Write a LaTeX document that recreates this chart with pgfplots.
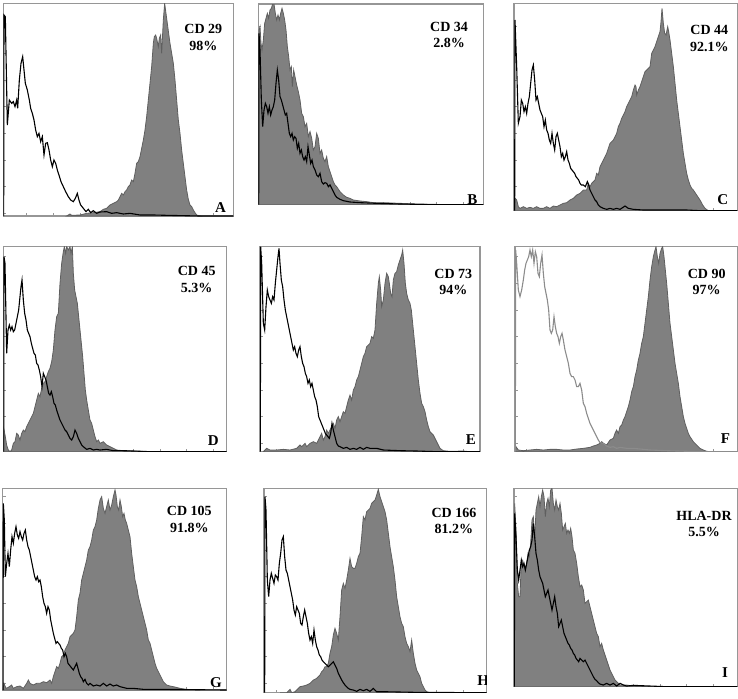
\documentclass[border=0pt]{standalone}
\usepackage{pgfplots}
\pgfplotsset{compat=1.18}
\usepackage{fontspec}
\setmainfont{Liberation Serif}
\definecolor{histfill}{RGB}{128,128,128}
\definecolor{histedge}{RGB}{95,95,95}
\definecolor{frame}{RGB}{150,150,150}
\pgfplotsset{
  hist/.style={
    scale only axis, anchor=north west, y dir=reverse,
    axis line style={frame, line width=0.6pt},
    xtick distance=80, ytick distance=80,
    xticklabels={}, yticklabels={},
    tick pos=left, tick align=inside, major tick length=1.5pt,
    tick style={frame, line width=0.4pt},
    clip=true,
  },
  filled/.style={fill=histfill, draw=histedge, line width=0.4pt},
  ctrl/.style={black, line width=0.55pt},
}
\newcommand{\lab}[4]{%
  \node[font=\fontsize{7}{8.2}\selectfont\bfseries, align=center] at (axis cs:#1,#2) {#3\\#4};}
\newcommand{\letter}[3]{%
  \node[font=\fontsize{7.5}{8}\selectfont\bfseries] at (axis cs:#1,#2) {#3};}
\begin{document}
\begin{tikzpicture}
\path[use as bounding box] (0,0) rectangle (369pt,-349pt);
% ---------------- A
\begin{axis}[hist, at={(1.667pt,-1.667pt)}, width=115pt, height=106.33pt,
  xmin=10, xmax=700, ymin=10, ymax=648]
\addplot[filled] coordinates {(200,648) (210,642) (215,646) (240,645) (260,640) (280,638) (300,635) (310,628) (320,625) (330,615) (340,610) (350,605) (355,600) (360,590) (365,580) (370,585) (375,575) (380,570) (385,560) (390,555) (395,540) (400,545) (405,520) (410,490) (415,485) (420,470) (425,445) (430,420) (435,390) (440,350) (445,300) (450,250) (455,200) (460,130) (463,110) (467,105) (470,115) (475,140) (478,115) (482,105) (485,160) (488,100) (490,60) (494,10) (498,40) (502,70) (506,100) (510,130) (515,160) (520,190) (525,240) (530,300) (535,360) (540,400) (545,450) (550,490) (555,530) (560,570) (565,598) (570,615) (575,620) (580,630) (585,638) (590,645) (600,648)} -- cycle;
\addplot[ctrl] coordinates {(11,648) (12,45) (16,50) (22,375) (28,300) (35,310) (40,305) (45,320) (50,300) (53,325) (58,240) (63,190) (68,170) (72,210) (76,250) (82,270) (88,300) (92,325) (97,340) (102,360) (107,390) (112,410) (117,400) (122,425) (127,410) (132,465) (137,430) (142,428) (147,450) (152,480) (157,500) (162,480) (167,490) (172,510) (177,525) (183,545) (190,560) (197,575) (205,590) (212,600) (220,605) (226,595) (232,580) (237,600) (242,615) (250,625) (258,635) (265,628) (272,638) (280,632) (290,640) (300,636) (320,635) (335,640) (350,638) (370,642) (390,640) (420,645) (460,645) (500,646) (550,647) (600,648) (700,648)};
\lab{610}{112}{CD 29}{98\%}
\letter{662}{622}{A}
\end{axis}
% ---------------- B
\begin{axis}[hist, at={(129.17pt,-2pt)}, width=112.5pt, height=100.33pt,
  xmin=25, xmax=700, ymin=12, ymax=614]
\addplot[filled] coordinates {(26,614) (27,90) (30,80) (33,130) (36,150) (40,120) (44,70) (48,55) (52,40) (56,55) (60,30) (64,25) (68,12) (72,12) (76,40) (80,60) (84,45) (88,60) (92,40) (96,25) (100,40) (104,60) (108,90) (112,140) (116,170) (120,210) (124,200) (127,260) (131,210) (135,230) (140,255) (145,275) (150,300) (155,340) (160,350) (165,380) (170,370) (175,410) (180,395) (185,415) (190,450) (195,440) (200,400) (205,415) (210,460) (215,450) (220,475) (225,485) (230,470) (235,500) (240,515) (245,530) (250,545) (255,555) (260,560) (270,575) (280,585) (290,592) (300,595) (310,600) (330,603) (350,605) (370,608) (400,608) (450,610) (500,612) (550,613) (600,614)} -- cycle;
\addplot[ctrl] coordinates {(26,614) (27,100) (30,150) (34,300) (38,380) (42,330) (46,310) (50,320) (54,340) (58,320) (62,345) (66,330) (70,320) (74,300) (78,250) (82,210) (86,240) (90,290) (94,300) (98,315) (102,330) (106,345) (110,340) (114,370) (118,400) (122,410) (126,400) (130,420) (134,410) (138,415) (142,445) (146,430) (150,460) (154,450) (158,470) (162,480) (166,470) (170,485) (174,440) (178,465) (182,490) (186,480) (190,500) (195,510) (200,525) (205,530) (210,520) (215,545) (220,552) (225,548) (230,550) (235,560) (240,555) (245,565) (250,575) (255,585) (260,592) (270,598) (280,602) (300,606) (330,608) (380,610) (450,612) (550,614) (700,614)};
\lab{597}{105}{CD 34}{2.8\%}
\letter{667}{600}{B}
\end{axis}
% ---------------- C
\begin{axis}[hist, at={(257pt,-1.667pt)}, width=111.67pt, height=103.67pt,
  xmin=42, xmax=712, ymin=10, ymax=632]
\addplot[filled] coordinates {(44,632) (46,595) (50,600) (55,620) (60,625) (70,620) (80,625) (90,622) (100,625) (110,620) (120,625) (130,625) (140,620) (150,625) (160,618) (170,620) (180,615) (190,610) (200,608) (210,600) (220,595) (230,585) (240,580) (250,570) (260,570) (265,550) (270,560) (275,550) (280,545) (285,540) (290,520) (295,525) (300,500) (305,490) (310,480) (315,470) (320,460) (325,445) (330,430) (335,425) (340,420) (345,410) (350,400) (355,380) (360,370) (365,355) (370,345) (375,335) (380,320) (385,310) (390,300) (395,290) (400,270) (405,255) (408,260) (410,285) (415,270) (420,260) (425,245) (430,230) (435,215) (440,210) (445,205) (450,200) (455,160) (460,150) (465,140) (470,125) (475,110) (480,95) (483,65) (486,25) (490,70) (494,100) (498,105) (503,80) (506,95) (510,120) (515,160) (520,200) (525,250) (530,300) (535,340) (540,380) (545,420) (550,460) (555,490) (560,520) (565,540) (570,555) (575,565) (580,570) (590,585) (600,600) (608,615) (615,625) (625,632)} -- cycle;
\addplot[ctrl] coordinates {(44,632) (45,60) (50,200) (55,370) (60,350) (64,300) (68,310) (72,335) (76,320) (80,340) (84,310) (88,290) (92,250) (96,210) (100,195) (104,240) (108,300) (112,290) (116,310) (120,330) (124,340) (128,350) (132,380) (136,360) (140,390) (144,400) (148,420) (152,430) (156,400) (160,430) (164,450) (168,410) (172,400) (176,420) (180,440) (184,470) (188,460) (192,480) (196,470) (200,455) (204,480) (208,490) (212,505) (216,510) (220,515) (224,520) (228,530) (232,535) (236,540) (240,550) (244,555) (250,555) (256,560) (262,545) (266,555) (270,570) (275,580) (280,590) (285,600) (290,605) (295,615) (300,620) (310,625) (320,628) (330,625) (340,628) (350,625) (360,628) (375,618) (385,625) (400,628) (430,630) (470,630) (520,630) (560,630) (600,632) (712,632)};
\lab{628}{115}{CD 44}{92.1\%}
\letter{668}{598}{C}
\end{axis}
% ---------------- D
\begin{axis}[hist, at={(1.667pt,-123.33pt)}, width=111.67pt, height=102.5pt,
  xmin=10, xmax=680, ymin=50, ymax=665]
\addplot[filled] coordinates {(11,665) (12,600) (16,620) (20,645) (25,660) (30,665) (35,660) (40,640) (45,635) (50,610) (55,615) (60,630) (65,610) (70,600) (75,605) (80,590) (85,580) (90,570) (95,560) (100,550) (105,530) (110,510) (115,490) (120,500) (125,475) (130,460) (135,455) (140,440) (145,425) (150,415) (155,395) (160,360) (165,300) (170,260) (175,250) (180,160) (185,100) (190,65) (193,50) (197,70) (200,50) (205,60) (210,50) (213,70) (217,50) (220,130) (224,180) (228,200) (232,220) (236,260) (240,300) (244,340) (248,380) (252,430) (256,480) (260,510) (265,540) (270,570) (275,580) (280,600) (285,620) (290,635) (295,630) (300,640) (310,635) (320,645) (330,650) (340,655) (350,660) (370,662) (400,663) (450,665) (500,665)} -- cycle;
\addplot[ctrl] coordinates {(11,665) (12,80) (15,100) (20,370) (24,300) (28,285) (32,300) (36,290) (40,305) (44,300) (48,280) (52,260) (56,240) (60,200) (63,170) (66,150) (70,210) (74,250) (78,270) (82,300) (86,310) (90,320) (94,340) (98,355) (102,370) (106,375) (110,400) (114,405) (118,420) (122,440) (126,470) (130,430) (134,440) (138,450) (142,470) (146,490) (150,495) (154,485) (158,500) (162,520) (166,525) (170,540) (175,555) (180,570) (185,580) (190,590) (195,600) (200,605) (205,615) (210,625) (215,630) (220,620) (225,600) (230,610) (235,625) (240,635) (245,645) (250,650) (260,658) (270,655) (280,660) (290,658) (300,660) (320,658) (340,662) (370,662) (400,663) (450,665) (680,665)};
\lab{590}{148}{CD 45}{5.3\%}
\letter{640}{632}{D}
\end{axis}
% ---------------- E
\begin{axis}[hist, at={(130pt,-123.33pt)}, width=110pt, height=102.5pt,
  xmin=30, xmax=690, ymin=50, ymax=665]
\addplot[filled] coordinates {(40,665) (50,655) (60,660) (80,660) (100,658) (120,660) (140,655) (150,645) (155,650) (165,640) (170,650) (180,640) (190,635) (200,640) (205,630) (210,620) (215,610) (220,630) (225,620) (230,600) (235,610) (240,600) (245,590) (250,580) (255,595) (260,570) (265,560) (270,575) (275,560) (280,545) (285,550) (290,530) (295,510) (300,495) (305,510) (310,480) (315,470) (320,450) (325,440) (330,420) (335,400) (340,380) (345,370) (350,350) (355,345) (360,340) (365,320) (370,325) (375,300) (380,220) (385,160) (388,140) (392,180) (395,230) (400,210) (405,160) (410,130) (415,140) (418,160) (422,190) (426,200) (430,150) (435,130) (440,125) (445,105) (450,90) (455,75) (458,60) (462,100) (466,160) (470,190) (475,210) (480,220) (484,240) (488,280) (492,320) (496,360) (500,400) (505,450) (510,490) (515,520) (520,530) (525,545) (530,570) (535,590) (540,605) (545,610) (550,615) (555,625) (560,635) (565,645) (570,655) (580,662) (600,664) (640,663) (660,665)} -- cycle;
\addplot[ctrl] coordinates {(31,665) (32,50) (35,100) (40,280) (44,300) (48,230) (52,180) (56,200) (60,210) (64,220) (68,200) (72,210) (76,160) (80,120) (84,80) (87,55) (90,100) (94,150) (98,170) (102,210) (106,240) (110,260) (114,280) (118,300) (122,320) (126,340) (130,360) (134,350) (138,370) (142,380) (146,360) (150,350) (154,380) (158,400) (162,410) (166,430) (170,440) (174,460) (178,450) (182,470) (186,460) (190,480) (194,500) (198,510) (202,530) (206,560) (210,570) (214,580) (218,590) (222,600) (226,610) (230,615) (234,620) (238,625) (242,610) (246,580) (250,600) (255,620) (260,640) (265,648) (270,650) (280,655) (290,652) (300,658) (310,655) (320,658) (330,652) (340,658) (350,652) (360,655) (380,655) (400,660) (450,662) (500,663) (560,665) (690,665)};
\lab{610}{155}{CD 73}{94\%}
\letter{663}{628}{E}
\end{axis}
% ---------------- F
\begin{axis}[hist, at={(257.5pt,-123.33pt)}, width=111.17pt, height=102.5pt,
  xmin=45, xmax=712, ymin=50, ymax=665]
\addplot[filled] coordinates {(46,665) (48,650) (55,660) (70,662) (90,660) (110,658) (130,660) (150,658) (170,658) (190,660) (210,660) (230,657) (250,655) (270,652) (280,648) (290,645) (300,640) (305,635) (310,640) (320,645) (330,630) (340,625) (345,610) (350,600) (355,610) (360,590) (365,585) (370,570) (375,560) (380,545) (385,530) (390,510) (395,485) (400,470) (405,440) (410,420) (415,390) (420,370) (425,340) (430,320) (435,280) (440,240) (445,200) (450,150) (455,110) (460,80) (465,60) (468,50) (472,80) (476,100) (480,70) (485,55) (488,50) (492,80) (496,120) (500,160) (505,220) (510,280) (515,320) (520,360) (525,400) (530,430) (535,460) (540,500) (545,530) (550,560) (555,580) (560,595) (565,610) (570,620) (580,635) (590,645) (600,655) (610,660) (620,664) (640,665)} -- cycle;
\addplot[black!45, line width=0.55pt] coordinates {(46,665) (47,60) (50,100) (55,180) (60,200) (65,180) (70,150) (74,120) (78,100) (82,90) (86,80) (90,60) (94,80) (98,60) (102,100) (106,65) (110,80) (114,130) (118,140) (122,100) (126,75) (130,130) (134,170) (138,190) (142,210) (146,240) (150,300) (154,310) (158,300) (162,260) (166,290) (170,310) (174,320) (178,340) (182,320) (186,310) (190,330) (195,360) (200,380) (205,400) (210,430) (215,440) (220,440) (225,450) (230,470) (235,470) (240,460) (245,480) (250,520) (255,530) (260,550) (265,565) (270,580) (275,590) (280,600) (285,610) (290,620) (295,630) (300,638) (310,640) (320,648) (330,652) (340,650) (350,655) (360,652) (380,655) (400,655) (450,660) (500,662) (600,665) (712,665)};
\lab{620}{155}{CD 90}{97\%}
\letter{676}{626}{F}
\end{axis}
% ---------------- G
\begin{axis}[hist, at={(1.333pt,-244.17pt)}, width=112pt, height=100.83pt,
  xmin=8, xmax=680, ymin=55, ymax=660]
\addplot[filled] coordinates {(9,660) (12,640) (18,655) (25,652) (35,645) (40,655) (50,650) (60,648) (70,655) (80,640) (85,630) (90,640) (100,645) (110,640) (120,640) (130,635) (140,638) (150,630) (155,640) (160,620) (165,605) (170,590) (175,595) (180,580) (185,560) (190,555) (195,540) (200,530) (205,520) (210,500) (215,495) (220,490) (225,480) (230,440) (235,390) (240,370) (245,330) (250,310) (255,290) (260,270) (265,240) (270,230) (275,210) (280,180) (285,170) (290,150) (295,115) (300,90) (305,80) (310,115) (315,130) (320,110) (325,90) (330,120) (335,105) (340,80) (345,60) (348,75) (352,110) (356,120) (360,90) (364,110) (368,140) (372,130) (376,150) (380,160) (385,180) (390,200) (395,250) (400,290) (405,330) (410,350) (415,380) (420,400) (425,420) (430,440) (435,460) (440,480) (445,510) (450,520) (455,540) (460,560) (465,580) (470,595) (475,605) (480,615) (485,625) (490,635) (500,645) (510,648) (520,650) (540,655) (560,658) (600,660)} -- cycle;
\addplot[ctrl] coordinates {(9,660) (10,100) (13,150) (16,320) (20,280) (24,250) (28,290) (32,240) (36,200) (40,220) (44,190) (48,170) (52,195) (56,205) (60,185) (64,200) (68,210) (72,190) (76,180) (80,210) (84,230) (88,240) (92,260) (96,280) (100,300) (104,320) (108,330) (112,320) (116,335) (120,330) (124,350) (128,380) (132,400) (136,410) (140,430) (144,410) (148,420) (152,450) (156,470) (160,490) (164,505) (168,520) (172,515) (176,520) (180,525) (184,535) (188,540) (192,560) (196,550) (200,560) (204,580) (208,585) (212,590) (216,595) (220,600) (225,590) (230,580) (234,595) (238,610) (242,620) (246,625) (250,635) (255,628) (260,640) (265,645) (270,640) (280,648) (290,645) (300,648) (310,640) (320,648) (330,642) (340,648) (350,645) (360,650) (380,655) (400,655) (430,658) (480,658) (680,660)};
\lab{568}{148}{CD 105}{91.8\%}
\letter{648}{637}{G}
\end{axis}
% ---------------- H
\begin{axis}[hist, at={(132pt,-244.17pt)}, width=111.33pt, height=102.17pt,
  xmin=42, xmax=710, ymin=55, ymax=668]
\addplot[filled] coordinates {(90,668) (110,668) (120,658) (125,668) (135,665) (140,660) (150,650) (160,648) (170,645) (180,640) (190,630) (200,625) (210,615) (215,605) (220,600) (225,590) (230,590) (235,580) (240,550) (245,530) (250,495) (255,475) (260,490) (265,510) (270,440) (275,360) (280,340) (285,355) (290,330) (295,300) (300,265) (305,290) (310,295) (315,295) (320,280) (325,260) (330,250) (335,200) (340,140) (345,150) (350,125) (355,120) (360,115) (365,100) (370,95) (375,90) (380,75) (385,58) (390,80) (395,95) (400,110) (405,125) (410,150) (415,190) (420,230) (425,260) (430,290) (435,330) (440,380) (445,410) (450,440) (455,460) (460,470) (465,500) (470,520) (475,530) (480,545) (485,510) (490,550) (495,580) (500,600) (505,610) (510,620) (515,640) (520,650) (525,660) (530,665) (540,668)} -- cycle;
\addplot[ctrl] coordinates {(44,668) (45,80) (48,120) (52,330) (56,380) (60,330) (64,310) (68,325) (72,340) (76,315) (80,320) (84,330) (88,280) (92,250) (96,210) (100,200) (104,260) (108,300) (112,310) (116,330) (120,350) (124,370) (128,390) (132,420) (136,435) (140,410) (144,420) (148,430) (152,460) (156,465) (160,440) (164,420) (168,440) (172,460) (176,490) (180,510) (184,500) (188,520) (192,480) (196,510) (200,530) (204,540) (208,555) (212,560) (216,570) (220,575) (225,580) (230,585) (235,590) (240,585) (245,580) (250,575) (255,585) (260,595) (265,610) (270,620) (275,630) (280,638) (285,645) (290,650) (295,655) (300,658) (310,660) (320,664) (330,658) (340,662) (350,658) (360,664) (370,655) (380,665) (400,665) (450,666) (500,667) (710,668)};
\lab{612}{152}{CD 166}{81.2\%}
\letter{700}{632}{H}
\end{axis}
% ---------------- I
\begin{axis}[hist, at={(257pt,-244.17pt)}, width=111.67pt, height=99.17pt,
  xmin=42, xmax=712, ymin=55, ymax=650]
\addplot[filled] coordinates {(43,650) (44,100) (48,180) (52,340) (56,380) (60,380) (64,270) (68,270) (72,290) (76,300) (80,280) (84,250) (88,260) (92,220) (96,150) (100,140) (104,210) (108,120) (112,100) (116,80) (120,110) (124,80) (128,60) (132,80) (136,140) (140,100) (144,85) (148,110) (152,60) (156,55) (160,100) (164,120) (168,90) (172,110) (176,120) (180,100) (184,130) (188,180) (192,170) (196,160) (200,190) (204,180) (208,190) (212,175) (216,200) (220,240) (225,250) (230,280) (235,320) (240,350) (245,345) (250,360) (255,400) (260,395) (265,390) (270,410) (275,430) (280,450) (285,470) (290,490) (295,500) (300,530) (305,520) (310,540) (315,555) (320,570) (325,585) (330,600) (335,610) (340,620) (345,630) (350,635) (355,640) (360,645) (380,645) (400,648) (450,650) (520,650)} -- cycle;
\addplot[ctrl] coordinates {(43,650) (44,130) (48,200) (52,300) (56,330) (60,300) (64,270) (68,290) (72,280) (76,300) (80,280) (84,260) (88,240) (92,230) (96,210) (100,160) (104,200) (108,250) (112,270) (116,300) (120,320) (124,330) (128,340) (132,360) (136,380) (140,370) (144,360) (148,380) (152,400) (156,420) (160,400) (164,380) (168,410) (172,430) (176,470) (180,460) (184,450) (188,470) (192,490) (196,500) (200,510) (204,520) (208,525) (212,535) (216,540) (220,550) (224,555) (228,565) (232,570) (236,575) (240,565) (245,570) (250,575) (255,570) (260,580) (265,590) (270,600) (275,610) (280,620) (285,628) (290,632) (295,638) (300,642) (310,645) (320,640) (330,645) (340,640) (350,648) (360,640) (370,645) (380,648) (400,646) (450,648) (500,650) (712,650)};
\lab{612}{162}{HLA-DR}{5.5\%}
\letter{675}{608}{I}
\end{axis}
\end{tikzpicture}
\end{document}
